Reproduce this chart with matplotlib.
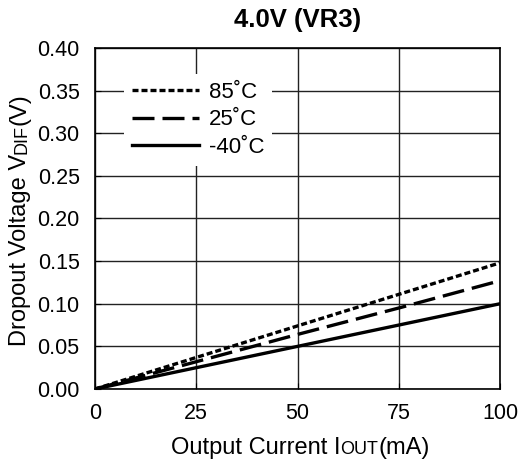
import matplotlib
matplotlib.use("Agg")
import matplotlib.pyplot as plt

plt.rcParams["font.family"] = ["Liberation Sans", "DejaVu Sans"]

# output current (mA)
iout = [0, 25, 50, 75, 100]
# dropout voltage (V) per temperature
vdif_85 = [0.0, 0.037, 0.074, 0.111, 0.148]
vdif_25 = [0.0, 0.032, 0.064, 0.095, 0.127]
vdif_m40 = [0.0, 0.025, 0.050, 0.075, 0.100]

labels = ["85\u02daC", "25\u02daC", "-40\u02daC"]
x_ticks = [0, 25, 50, 75, 100]
y_ticks = [0.00, 0.05, 0.10, 0.15, 0.20, 0.25, 0.30, 0.35, 0.40]

W, H = 528, 465
TICK_FS = 15.5
LABEL_FS = 17
SMALL_FS = 13


def label_pieces(fig, pieces, cx, cy, rotation=0):
    """Write a label made of pieces of different size on one baseline,
    centred at pixel (cx, cy) counted from the top left."""
    renderer = fig.canvas.get_renderer()
    texts = [fig.text(0, 0, s, fontsize=size, rotation=rotation,
                      rotation_mode="anchor", ha="left", va="baseline")
             for s, size in pieces]
    lengths = []
    for t in texts:
        bb = t.get_window_extent(renderer)
        lengths.append(bb.width if rotation == 0 else bb.height)
    pos = -sum(lengths) / 2
    for t, L in zip(texts, lengths):
        if rotation == 0:
            t.set_position(((cx + pos) / W, 1 - cy / H))
        else:
            t.set_position((cx / W, 1 - (cy - pos) / H))
        pos += L


fig = plt.figure(figsize=(W / 100, H / 100), dpi=100)
ax = fig.add_axes([95 / W, 1 - 389 / H, 405 / W, 341 / H])

ax.plot(iout, vdif_85, color="black", lw=2.4, linestyle=(0, (1.8, 0.9)),
        label=labels[0])
ax.plot(iout, vdif_25, color="black", lw=2.4, linestyle=(0, (6.6, 2.4)),
        label=labels[1])
ax.plot(iout, vdif_m40, color="black", lw=2.4, label=labels[2])

ax.set_xlim(0, 100)
ax.set_ylim(0, 0.40)
ax.set_xticks(x_ticks)
ax.set_yticks(y_ticks)
ax.set_yticklabels([f"{v:.2f}" for v in y_ticks])
ax.tick_params(direction="in", labelsize=TICK_FS, length=4)
ax.tick_params(axis="x", pad=10)
ax.tick_params(axis="y", pad=11)
ax.grid(True, color="#222222", lw=1.0)
ax.set_axisbelow(True)
for s in ax.spines.values():
    s.set_linewidth(1.2)

ax.set_title("4.0V (VR3)", fontsize=18.5, fontweight="bold", pad=15)

leg = ax.legend(loc="upper left", bbox_to_anchor=(0.072, 0.924), fontsize=16,
                handlelength=3.0, handletextpad=0.45, labelspacing=0.3,
                borderpad=0.35, borderaxespad=0, frameon=True, fancybox=False)
leg.get_frame().set_facecolor("white")
leg.get_frame().set_edgecolor("none")
leg.get_frame().set_alpha(1)

fig.canvas.draw()
label_pieces(fig, [("Output Current I", LABEL_FS), ("OUT", SMALL_FS),
                   ("(mA)", LABEL_FS)], 300, 454)
label_pieces(fig, [("Dropout Voltage V", LABEL_FS), ("DIF", SMALL_FS),
                   ("(V)", LABEL_FS)], 26, 220, rotation=90)

fig.savefig("out.png", dpi=100)
